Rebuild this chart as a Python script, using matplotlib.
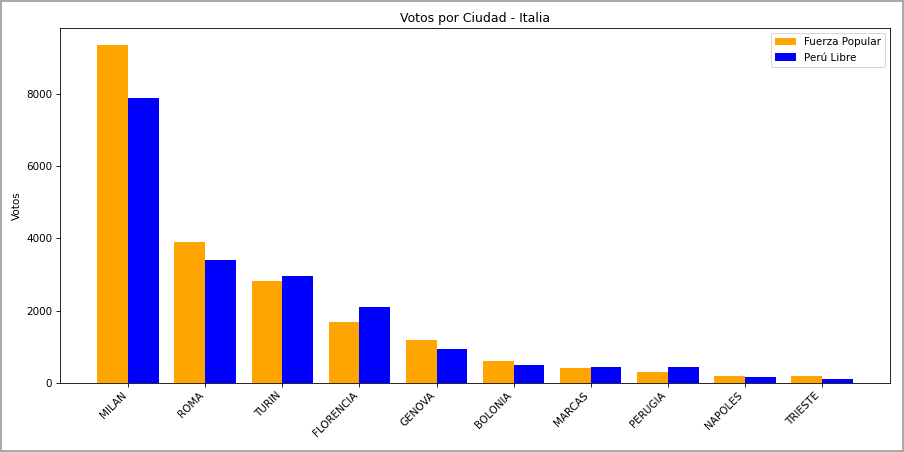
import numpy as np
import matplotlib.pyplot as plt

ciudades = ['MILAN', 'ROMA', 'TURIN', 'FLORENCIA', 'GENOVA', 'BOLONIA',
            'MARCAS', 'PERUGIA', 'NAPOLES', 'TRIESTE']
fuerza_popular = [9350, 3900, 2820, 1690, 1190, 600, 405, 305, 195, 185]
peru_libre = [7890, 3405, 2960, 2105, 940, 490, 435, 435, 158, 102]

x = np.arange(len(ciudades))
ancho = 0.4

fig, ax = plt.subplots(figsize=(904 / 75, 452 / 75), dpi=75)
fig.patch.set_edgecolor('#aaaaaa')
fig.patch.set_linewidth(2)

ax.bar(x - ancho / 2, fuerza_popular, ancho, label='Fuerza Popular', color='orange')
ax.bar(x + ancho / 2, peru_libre, ancho, label='Perú Libre', color='blue')

ax.set_title('Votos por Ciudad - Italia')
ax.set_ylabel('Votos')
ax.set_xticks(x)
ax.set_xticklabels(ciudades, rotation=45, ha='right')
ax.legend(loc='upper right')

fig.subplots_adjust(left=0.066, right=0.985, top=0.938, bottom=0.153)
fig.savefig('out.png', dpi=75, edgecolor=fig.get_edgecolor())
